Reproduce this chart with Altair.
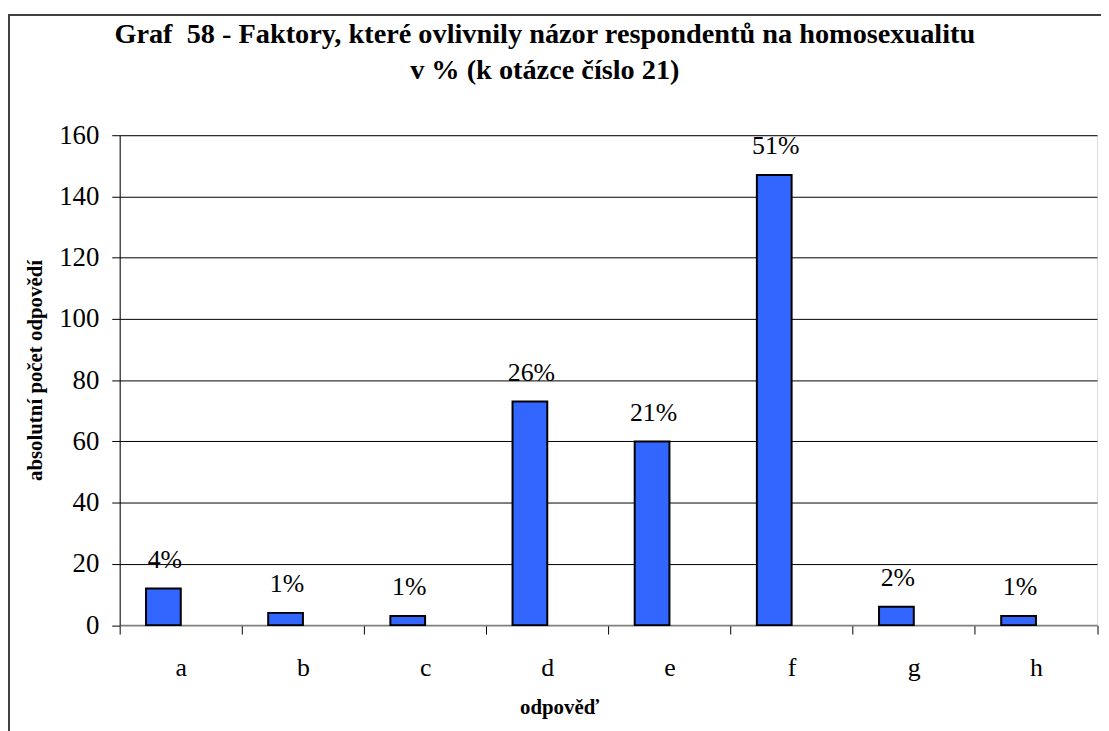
import altair as alt
import pandas as pd

categories = ["a", "b", "c", "d", "e", "f", "g", "h"]
counts = [12, 4, 3, 73, 60, 147, 6, 3]
pct_labels = ["4%", "1%", "1%", "26%", "21%", "51%", "2%", "1%"]
y_ticks = [0, 20, 40, 60, 80, 100, 120, 140, 160]

title_lines = [
    "Graf \u00a058 - Faktory, které ovlivnily názor respondentů na homosexualitu",
    "v % (k otázce číslo 21)",
]
x_title = "odpověď"
y_title = "absolutní počet odpovědí"

df = pd.DataFrame({"cat": categories, "count": counts, "pct": pct_labels})

FONT = "Liberation Serif"

x_enc = alt.X(
    "cat:N",
    sort=categories,
    scale=alt.Scale(paddingInner=0, paddingOuter=0),
    axis=alt.Axis(
        title=x_title,
        labelAngle=0,
        labelFont=FONT,
        labelFontSize=26,
        labelColor="black",
        labelBaseline="alphabetic",
        labelPadding=42,
        tickBand="extent",
        tickSize=9,
        tickColor="black",
        domainColor="#808080",
        domainWidth=2,
        titleFont=FONT,
        titleFontSize=21,
        titleFontWeight="bold",
        titleColor="black",
        titleX=442.5,
        titleY=89,
        titleBaseline="alphabetic",
        titleAlign="center",
    ),
)

y_enc = alt.Y(
    "count:Q",
    scale=alt.Scale(domain=[0, 160], nice=False),
    axis=alt.Axis(
        title=y_title,
        values=y_ticks,
        grid=True,
        gridColor={"condition": {"test": "datum.value === 0", "value": "transparent"}, "value": "black"},
        gridWidth=1,
        domainColor="black",
        domainWidth=1,
        tickColor="black",
        tickSize=8,
        labelFont=FONT,
        labelFontSize=27,
        labelColor="black",
        labelPadding=13,
        titleFont=FONT,
        titleFontSize=21,
        titleFontWeight="bold",
        titleColor="black",
        titleX=-78.5,
        titleY=236.5,
        titleBaseline="alphabetic",
        titleAlign="center",
    ),
)

bars = alt.Chart(df).mark_bar(
    width=35, xOffset=-17.5, fill="#3366FF", stroke="black", strokeWidth=2
).encode(x=x_enc, y=y_enc)

labels = alt.Chart(df).mark_text(
    xOffset=-16, dy=-21, baseline="alphabetic", font=FONT, fontSize=26, color="black"
).encode(x=alt.X("cat:N", sort=categories), y=alt.Y("count:Q"), text="pct:N")

frame_df = pd.DataFrame({"k": [0]})
frame_left = alt.Chart(frame_df).mark_rule(color="#404040", strokeWidth=2).encode(
    x=alt.value(-111.5), y=alt.value(-121.2), y2=alt.value(700)
)
frame_top = alt.Chart(frame_df).mark_rule(color="#404040", strokeWidth=2).encode(
    x=alt.value(-112.5), x2=alt.value(1100), y=alt.value(-121.2)
)

chart = (
    alt.layer(bars, labels, frame_left, frame_top)
    .properties(
        width=984.5,
        height=493.5,
        autosize=alt.AutoSizeParams(type="none"),
        padding={"left": 112.5, "top": 125.5, "right": 4, "bottom": 104},
        title=alt.Title(
            text=title_lines,
            font=FONT,
            fontSize=28.5,
            fontWeight="bold",
            color="black",
            anchor="middle",
            dx=-64,
            dy=71,
            offset=0,
            lineHeight=36,
        ),
    )
    .configure_view(strokeWidth=0)
    .configure(background="white")
)

chart.save("out.html", embed_options={"renderer": "svg", "actions": False})
